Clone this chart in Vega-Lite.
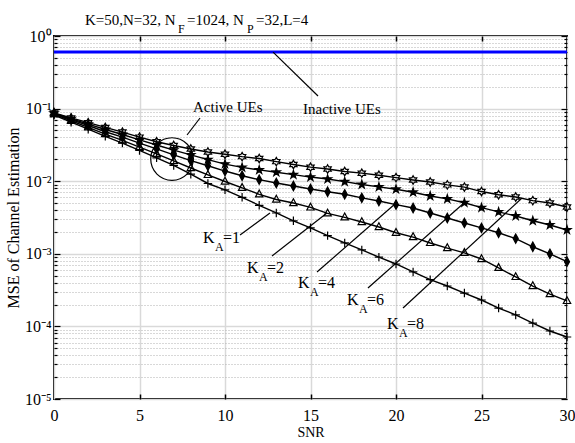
{
"$schema": "https://vega.github.io/schema/vega-lite/v6.json",
"width": 513, "height": 363,
"autosize": {"type": "none"},
"padding": {"left": 54, "top": 36, "right": 8, "bottom": 44},
"background": "white",
"config": {
  "font": "Liberation Serif",
  "view": {"stroke": "black", "strokeWidth": 2},
  "axis": {"labelFont": "Liberation Serif", "titleFont": "Liberation Serif", "labelColor": "black", "titleColor": "black", "titleFontWeight": "normal", "domain": false, "labelOverlap": false, "labelFlush": false}
},
"datasets": {
  "inactive": [{"snr": 0, "mse": 0.6}, {"snr": 30, "mse": 0.6}],
  "series": [
    {"snr": 0, "k1": 0.0816, "k2": 0.0838, "k4": 0.0855, "k6": 0.0865, "k8": 0.0872},
    {"snr": 1, "k1": 0.0650, "k2": 0.0680, "k4": 0.0705, "k6": 0.0725, "k8": 0.0745},
    {"snr": 2, "k1": 0.0520, "k2": 0.0550, "k4": 0.0585, "k6": 0.0610, "k8": 0.0640},
    {"snr": 3, "k1": 0.0415, "k2": 0.0445, "k4": 0.0480, "k6": 0.0515, "k8": 0.0550},
    {"snr": 4, "k1": 0.0335, "k2": 0.0365, "k4": 0.0405, "k6": 0.0440, "k8": 0.0475},
    {"snr": 5, "k1": 0.0265, "k2": 0.0295, "k4": 0.0335, "k6": 0.0370, "k8": 0.0405},
    {"snr": 6, "k1": 0.0210, "k2": 0.0238, "k4": 0.0278, "k6": 0.0315, "k8": 0.0350},
    {"snr": 7, "k1": 0.0165, "k2": 0.0190, "k4": 0.0230, "k6": 0.0268, "k8": 0.0310},
    {"snr": 8, "k1": 0.0125, "k2": 0.0152, "k4": 0.0192, "k6": 0.0230, "k8": 0.0278},
    {"snr": 9, "k1": 0.0093, "k2": 0.0122, "k4": 0.0163, "k6": 0.0198, "k8": 0.0252},
    {"snr": 10, "k1": 0.0076, "k2": 0.0099, "k4": 0.0138, "k6": 0.0172, "k8": 0.0235},
    {"snr": 11, "k1": 0.0060, "k2": 0.0081, "k4": 0.0119, "k6": 0.0155, "k8": 0.0218},
    {"snr": 12, "k1": 0.00465, "k2": 0.0066, "k4": 0.0105, "k6": 0.0143, "k8": 0.0205},
    {"snr": 13, "k1": 0.00365, "k2": 0.0056, "k4": 0.00945, "k6": 0.0133, "k8": 0.0186},
    {"snr": 14, "k1": 0.00285, "k2": 0.0050, "k4": 0.00859, "k6": 0.0123, "k8": 0.0170},
    {"snr": 15, "k1": 0.00228, "k2": 0.00435, "k4": 0.00781, "k6": 0.0114, "k8": 0.0156},
    {"snr": 16, "k1": 0.00178, "k2": 0.00360, "k4": 0.00715, "k6": 0.0107, "k8": 0.0147},
    {"snr": 17, "k1": 0.00141, "k2": 0.00318, "k4": 0.00660, "k6": 0.00985, "k8": 0.0136},
    {"snr": 18, "k1": 0.00113, "k2": 0.00274, "k4": 0.00590, "k6": 0.00900, "k8": 0.0129},
    {"snr": 19, "k1": 0.000900, "k2": 0.00234, "k4": 0.00534, "k6": 0.00835, "k8": 0.0121},
    {"snr": 20, "k1": 0.000724, "k2": 0.00195, "k4": 0.00475, "k6": 0.00775, "k8": 0.0112},
    {"snr": 21, "k1": 0.000562, "k2": 0.00170, "k4": 0.00427, "k6": 0.00705, "k8": 0.0104},
    {"snr": 22, "k1": 0.000440, "k2": 0.00141, "k4": 0.00365, "k6": 0.00625, "k8": 0.00975},
    {"snr": 23, "k1": 0.000360, "k2": 0.00120, "k4": 0.00311, "k6": 0.00570, "k8": 0.00890},
    {"snr": 24, "k1": 0.000288, "k2": 0.00103, "k4": 0.00266, "k6": 0.00505, "k8": 0.00830},
    {"snr": 25, "k1": 0.000231, "k2": 0.000848, "k4": 0.00227, "k6": 0.00432, "k8": 0.00720},
    {"snr": 26, "k1": 0.000179, "k2": 0.000640, "k4": 0.00195, "k6": 0.00378, "k8": 0.00650},
    {"snr": 27, "k1": 0.000144, "k2": 0.000480, "k4": 0.00162, "k6": 0.00332, "k8": 0.00606},
    {"snr": 28, "k1": 0.000111, "k2": 0.000360, "k4": 0.00125, "k6": 0.00285, "k8": 0.00540},
    {"snr": 29, "k1": 0.0000864, "k2": 0.000279, "k4": 0.00100, "k6": 0.00249, "k8": 0.00500},
    {"snr": 30, "k1": 0.0000714, "k2": 0.000224, "k4": 0.00078, "k6": 0.00213, "k8": 0.00441}
  ],
  "circle": [{"snr": 6.9, "mse": 0.0202}],
  "rules": [
    {"snr": 7.78, "mse": 0.0433, "snr2": 8.54, "mse2": 0.0742},
    {"snr": 12.81, "mse": 0.6, "snr2": 15.44, "mse2": 0.149},
    {"snr": 10.88, "mse": 0.001815, "snr2": 12.63, "mse2": 0.00365},
    {"snr": 12.75, "mse": 0.000933, "snr2": 15.96, "mse2": 0.00365},
    {"snr": 15.38, "mse": 0.000562, "snr2": 19.94, "mse2": 0.00485},
    {"snr": 18.36, "mse": 0.000338, "snr2": 24.04, "mse2": 0.00517},
    {"snr": 20.41, "mse": 0.000179, "snr2": 27.37, "mse2": 0.00587}
  ],
  "texts": [
    {"snr": 8.13, "mse": 0.0898, "txt": "Active UEs"},
    {"snr": 14.56, "mse": 0.0843, "txt": "Inactive UEs"}
  ],
  "ka": [
    {"snr": 8.71, "mse": 0.00141, "n": "=1"},
    {"snr": 11.29, "mse": 0.000544, "n": "=2"},
    {"snr": 14.27, "mse": 0.000338, "n": "=4"},
    {"snr": 17.13, "mse": 0.000197, "n": "=6"},
    {"snr": 19.47, "mse": 0.0000921, "n": "=8"}
  ],
  "titleMain": [
    {"snr": 1.81, "mse": 1.418, "t": "K=50,N=32, N"},
    {"snr": 7.78, "mse": 1.418, "t": "=1024, N"},
    {"snr": 11.81, "mse": 1.418, "t": "=32,L=4"}
  ],
  "titleSub": [
    {"snr": 7.25, "mse": 1.418, "t": "F"},
    {"snr": 11.29, "mse": 1.418, "t": "P"}
  ]
},
"resolve": {"axis": {"x": "independent", "y": "independent"}},
"layer": [
  {
    "data": {"name": "inactive"},
    "mark": {"type": "line", "color": "#0000ff", "strokeWidth": 3},
    "encoding": {
      "x": {"field": "snr", "type": "quantitative", "scale": {"domain": [0, 30], "nice": false, "zero": false},
        "axis": {"orient": "bottom", "values": [0, 5, 10, 15, 20, 25, 30], "title": "SNR", "titleFontSize": 14, "titlePadding": 2, "ticks": false, "grid": true, "gridColor": "#d9d9d9", "gridWidth": 1.5, "labelFontSize": 16, "labelPadding": 8}},
      "y": {"field": "mse", "type": "quantitative", "scale": {"type": "log", "domain": [0.00001, 1]},
        "axis": {"orient": "left", "title": "MSE of Channel Estimation", "titleFontSize": 16, "titlePadding": 3, "ticks": false, "grid": true, "labelFontSize": 16, "labelPadding": 3, "labelBaseline": "middle",
          "values": [0.00001,0.00002,0.00003,0.00004,0.00005,0.00006,0.00007,0.00008,0.00009,0.0001,0.0002,0.0003,0.0004,0.0005,0.0006,0.0007,0.0008,0.0009,0.001,0.002,0.003,0.004,0.005,0.006,0.007,0.008,0.009,0.01,0.02,0.03,0.04,0.05,0.06,0.07,0.08,0.09,0.1,0.2,0.3,0.4,0.5,0.6,0.7,0.8,0.9,1],
          "labelExpr": "abs(log(datum.value)/LN10-round(log(datum.value)/LN10))<0.001 ? '10' + ['⁰','⁻¹','⁻²','⁻³','⁻⁴','⁻⁵'][-round(log(datum.value)/LN10)] : ''",
          "gridColor": {"condition": {"test": "abs(log(datum.value)/LN10-round(log(datum.value)/LN10))<0.001", "value": "#d9d9d9"}, "value": "#b0b0b0"},
          "gridDash": {"condition": {"test": "abs(log(datum.value)/LN10-round(log(datum.value)/LN10))<0.001", "value": []}, "value": [1, 2]},
          "gridWidth": {"condition": {"test": "abs(log(datum.value)/LN10-round(log(datum.value)/LN10))<0.001", "value": 1.5}, "value": 1}}}
    }
  },
  {
    "data": {"name": "series"},
    "transform": [{"fold": ["k1", "k2", "k4", "k6", "k8"], "as": ["series", "mse"]}],
    "mark": {"type": "line", "color": "black", "strokeWidth": 1.4},
    "encoding": {
      "x": {"field": "snr", "type": "quantitative", "scale": {"domain": [0, 30], "nice": false, "zero": false},
        "axis": {"orient": "top", "labels": false, "ticks": true, "tickSize": -5, "tickColor": "black", "tickWidth": 1.5, "values": [5, 10, 15, 20, 25], "grid": false, "title": null}},
      "y": {"field": "mse", "type": "quantitative", "scale": {"type": "log", "domain": [0.00001, 1]},
        "axis": {"orient": "right", "labels": false, "ticks": true, "grid": false, "title": null, "tickColor": "black", "tickWidth": 1.2,
          "values": [0.00001,0.00002,0.00003,0.00004,0.00005,0.00006,0.00007,0.00008,0.00009,0.0001,0.0002,0.0003,0.0004,0.0005,0.0006,0.0007,0.0008,0.0009,0.001,0.002,0.003,0.004,0.005,0.006,0.007,0.008,0.009,0.01,0.02,0.03,0.04,0.05,0.06,0.07,0.08,0.09,0.1,0.2,0.3,0.4,0.5,0.6,0.7,0.8,0.9,1],
          "tickSize": {"condition": {"test": "abs(log(datum.value)/LN10-round(log(datum.value)/LN10))<0.001", "value": -6}, "value": -3}}},
      "detail": {"field": "series"}
    }
  },
  {
    "data": {"name": "series"},
    "transform": [{"fold": ["k1", "k2", "k4", "k6", "k8"], "as": ["series", "mse"]}],
    "mark": {"type": "point", "stroke": "black", "strokeWidth": 1.2, "size": 72, "opacity": 1},
    "encoding": {
      "x": {"field": "snr", "type": "quantitative", "scale": {"domain": [0, 30], "nice": false, "zero": false},
        "axis": {"orient": "bottom", "labels": false, "ticks": true, "tickSize": -5, "tickColor": "black", "tickWidth": 1.5, "values": [5, 10, 15, 20, 25], "grid": false, "title": null}},
      "y": {"field": "mse", "type": "quantitative", "scale": {"type": "log", "domain": [0.00001, 1]},
        "axis": {"orient": "left", "labels": false, "ticks": true, "grid": false, "title": null, "tickColor": "black", "tickWidth": 1.2,
          "values": [0.00001,0.00002,0.00003,0.00004,0.00005,0.00006,0.00007,0.00008,0.00009,0.0001,0.0002,0.0003,0.0004,0.0005,0.0006,0.0007,0.0008,0.0009,0.001,0.002,0.003,0.004,0.005,0.006,0.007,0.008,0.009,0.01,0.02,0.03,0.04,0.05,0.06,0.07,0.08,0.09,0.1,0.2,0.3,0.4,0.5,0.6,0.7,0.8,0.9,1],
          "tickSize": {"condition": {"test": "abs(log(datum.value)/LN10-round(log(datum.value)/LN10))<0.001", "value": -6}, "value": -3}}},
      "shape": {"field": "series", "type": "nominal", "legend": null, "scale": {"domain": ["k1", "k2", "k4", "k6", "k8"], "range": [
        "M-1,0L1,0M0,-1L0,1",
        "M0,-1L0.87,0.6L-0.87,0.6Z",
        "M0,-1.1L0.6,0L0,1.1L-0.6,0Z",
        "M0,-1L0.225,-0.309L0.951,-0.309L0.363,0.118L0.588,0.809L0,0.382L-0.588,0.809L-0.363,0.118L-0.951,-0.309L-0.225,-0.309Z",
        "M0,-1L0.289,-0.5L0.866,-0.5L0.577,0L0.866,0.5L0.289,0.5L0,1L-0.289,0.5L-0.866,0.5L-0.577,0L-0.866,-0.5L-0.289,-0.5Z"]}},
      "fill": {"field": "series", "type": "nominal", "legend": null, "scale": {"domain": ["k1", "k2", "k4", "k6", "k8"], "range": ["transparent", "transparent", "black", "black", "transparent"]}}
    }
  },
  {
    "data": {"name": "circle"},
    "mark": {"type": "point", "shape": "circle", "size": 1810, "stroke": "black", "strokeWidth": 1.2, "filled": false, "opacity": 1},
    "encoding": {
      "x": {"field": "snr", "type": "quantitative", "scale": {"domain": [0, 30], "nice": false, "zero": false}, "axis": null},
      "y": {"field": "mse", "type": "quantitative", "scale": {"type": "log", "domain": [0.00001, 1]}, "axis": null}
    }
  },
  {
    "data": {"name": "rules"},
    "mark": {"type": "rule", "color": "black", "strokeWidth": 1.2},
    "encoding": {
      "x": {"field": "snr", "type": "quantitative", "scale": {"domain": [0, 30], "nice": false, "zero": false}, "axis": null},
      "y": {"field": "mse", "type": "quantitative", "scale": {"type": "log", "domain": [0.00001, 1]}, "axis": null},
      "x2": {"field": "snr2"},
      "y2": {"field": "mse2"}
    }
  },
  {
    "data": {"name": "texts"},
    "mark": {"type": "text", "align": "left", "baseline": "alphabetic", "fontSize": 15, "font": "Liberation Serif", "color": "black"},
    "encoding": {
      "x": {"field": "snr", "type": "quantitative", "scale": {"domain": [0, 30], "nice": false, "zero": false}, "axis": null},
      "y": {"field": "mse", "type": "quantitative", "scale": {"type": "log", "domain": [0.00001, 1]}, "axis": null},
      "text": {"field": "txt"}
    }
  },
  {
    "data": {"name": "ka"},
    "mark": {"type": "text", "text": "K", "align": "left", "baseline": "alphabetic", "fontSize": 16, "font": "Liberation Serif", "color": "black"},
    "encoding": {
      "x": {"field": "snr", "type": "quantitative", "scale": {"domain": [0, 30], "nice": false, "zero": false}, "axis": null},
      "y": {"field": "mse", "type": "quantitative", "scale": {"type": "log", "domain": [0.00001, 1]}, "axis": null}
    }
  },
  {
    "data": {"name": "ka"},
    "mark": {"type": "text", "text": "A", "align": "left", "baseline": "alphabetic", "fontSize": 12, "dx": 12, "dy": 8, "font": "Liberation Serif", "color": "black"},
    "encoding": {
      "x": {"field": "snr", "type": "quantitative", "scale": {"domain": [0, 30], "nice": false, "zero": false}, "axis": null},
      "y": {"field": "mse", "type": "quantitative", "scale": {"type": "log", "domain": [0.00001, 1]}, "axis": null}
    }
  },
  {
    "data": {"name": "ka"},
    "mark": {"type": "text", "align": "left", "baseline": "alphabetic", "fontSize": 16, "dx": 20, "font": "Liberation Serif", "color": "black"},
    "encoding": {
      "x": {"field": "snr", "type": "quantitative", "scale": {"domain": [0, 30], "nice": false, "zero": false}, "axis": null},
      "y": {"field": "mse", "type": "quantitative", "scale": {"type": "log", "domain": [0.00001, 1]}, "axis": null},
      "text": {"field": "n"}
    }
  },
  {
    "data": {"name": "titleMain"},
    "mark": {"type": "text", "align": "left", "baseline": "alphabetic", "fontSize": 15, "font": "Liberation Serif", "color": "black"},
    "encoding": {
      "x": {"field": "snr", "type": "quantitative", "scale": {"domain": [0, 30], "nice": false, "zero": false}, "axis": null},
      "y": {"field": "mse", "type": "quantitative", "scale": {"type": "log", "domain": [0.00001, 1]}, "axis": null},
      "text": {"field": "t"}
    }
  },
  {
    "data": {"name": "titleSub"},
    "mark": {"type": "text", "align": "left", "baseline": "alphabetic", "fontSize": 12, "dy": 8, "font": "Liberation Serif", "color": "black"},
    "encoding": {
      "x": {"field": "snr", "type": "quantitative", "scale": {"domain": [0, 30], "nice": false, "zero": false}, "axis": null},
      "y": {"field": "mse", "type": "quantitative", "scale": {"type": "log", "domain": [0.00001, 1]}, "axis": null},
      "text": {"field": "t"}
    }
  }
]
}
